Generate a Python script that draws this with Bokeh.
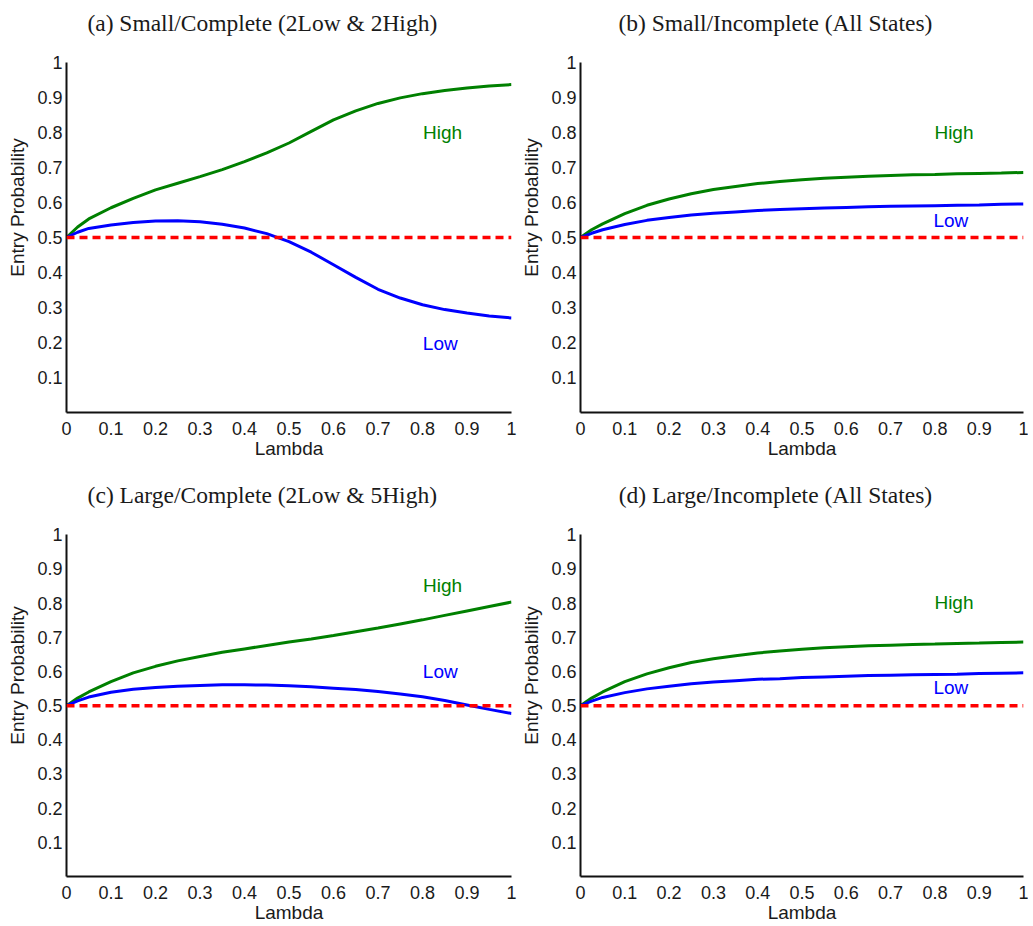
from bokeh.plotting import figure
from bokeh.layouts import gridplot
from bokeh.models import Range1d, FixedTicker, CustomJSTickFormatter, Span, Label
from bokeh.core.properties import value
from bokeh.embed import file_html
from bokeh.resources import INLINE

# ---------------- data ----------------
LAMBDA = [0, 0.025, 0.05, 0.1, 0.15, 0.2, 0.25, 0.3, 0.35, 0.4, 0.45, 0.5,
          0.55, 0.6, 0.65, 0.7, 0.75, 0.8, 0.85, 0.9, 0.95, 1.0]

a_high = [0.5, 0.530, 0.553, 0.585, 0.612, 0.636, 0.655, 0.674, 0.694, 0.717, 0.742, 0.770,
          0.803, 0.836, 0.862, 0.883, 0.899, 0.911, 0.920, 0.927, 0.933, 0.937]
a_low = [0.5, 0.515, 0.526, 0.536, 0.543, 0.547, 0.548, 0.545, 0.538, 0.527, 0.511, 0.488,
         0.458, 0.422, 0.386, 0.352, 0.327, 0.308, 0.294, 0.284, 0.276, 0.270]

b_high = [0.5, 0.522, 0.539, 0.568, 0.592, 0.610, 0.625, 0.637, 0.646, 0.654, 0.660, 0.665,
          0.669, 0.672, 0.675, 0.677, 0.679, 0.680, 0.682, 0.683, 0.684, 0.686]
b_low = [0.5, 0.512, 0.522, 0.537, 0.549, 0.557, 0.564, 0.569, 0.573, 0.577, 0.580, 0.582,
         0.584, 0.586, 0.588, 0.589, 0.590, 0.591, 0.592, 0.593, 0.595, 0.596]

c_high = [0.5, 0.522, 0.540, 0.570, 0.596, 0.615, 0.631, 0.644, 0.656, 0.666, 0.676, 0.686,
          0.695, 0.705, 0.716, 0.727, 0.739, 0.751, 0.764, 0.777, 0.790, 0.803]
c_low = [0.5, 0.514, 0.525, 0.539, 0.548, 0.553, 0.557, 0.559, 0.561, 0.561, 0.560, 0.558,
         0.555, 0.551, 0.547, 0.541, 0.534, 0.526, 0.515, 0.502, 0.489, 0.477]

d_high = [0.5, 0.522, 0.540, 0.570, 0.593, 0.611, 0.626, 0.637, 0.646, 0.654, 0.660, 0.665,
          0.669, 0.672, 0.675, 0.677, 0.679, 0.680, 0.682, 0.683, 0.685, 0.686]
d_low = [0.5, 0.513, 0.524, 0.538, 0.549, 0.557, 0.564, 0.569, 0.573, 0.577, 0.579, 0.582,
         0.584, 0.586, 0.588, 0.589, 0.590, 0.591, 0.592, 0.594, 0.595, 0.596]

THRESHOLD = 0.5

titles = ["(a) Small/Complete (2Low & 2High)",
          "(b) Small/Incomplete (All States)",
          "(c) Large/Complete (2Low & 5High)",
          "(d) Large/Incomplete (All States)"]

# label positions (x, y) for "High" and "Low" in each panel
high_label_x = [0.845, 0.843, 0.845, 0.843]
high_label_y = [0.800, 0.800, 0.851, 0.803]
low_label_x = [0.840, 0.836, 0.840, 0.836]
low_label_y = [0.197, 0.549, 0.600, 0.554]

x_ticks = [0, 0.1, 0.2, 0.3, 0.4, 0.5, 0.6, 0.7, 0.8, 0.9, 1.0]
y_ticks = [0.1, 0.2, 0.3, 0.4, 0.5, 0.6, 0.7, 0.8, 0.9, 1.0]

highs = [a_high, b_high, c_high, d_high]
lows = [a_low, b_low, c_low, d_low]

GREEN = "#008000"
BLUE = "#0000ff"
RED = "#ff0000"
SANS = "Liberation Sans"
SERIF = "Liberation Serif"

TITLE_X = 0.44      # title centre, as a fraction of the plotting width
TITLE_GAP_PX = 40   # title centre above the y=1 level, in px


def make_panel(i):
    left_col = (i % 2 == 0)
    top_row = (i < 2)
    if left_col:
        bl, fw, br = 66, 445, 7
    else:
        bl, fw, br = 62, 443, 5
    if top_row:
        pad, fh, bb = 60, 350, 60
    else:
        pad, fh, bb = 61, 346, 44
    bt = 2
    p = figure(width=bl + fw + br, height=bt + pad + fh + bb,
               x_range=Range1d(0, 1), y_range=Range1d(0, (fh + pad) / fh),
               output_backend="svg", toolbar_location=None,
               min_border_left=bl, min_border_right=br,
               min_border_top=bt, min_border_bottom=bb)
    p.outline_line_color = None
    p.background_fill_color = "white"
    p.border_fill_color = "white"
    p.xgrid.visible = False
    p.ygrid.visible = False

    p.add_layout(Label(x=TITLE_X, y=1 + TITLE_GAP_PX / fh, text=titles[i],
                       text_font=SERIF, text_font_size="23.5px",
                       text_color="#1a1a1a", text_align="center",
                       text_baseline="middle"))

    fmt = CustomJSTickFormatter(code="return (Math.round(tick*10)/10).toString();")
    for ax in (p.xaxis[0], p.yaxis[0]):
        ax.major_tick_in = 0
        ax.major_tick_out = 0
        ax.minor_tick_in = 0
        ax.minor_tick_out = 0
        ax.axis_line_color = "#111111"
        ax.axis_line_width = 2
        ax.major_label_text_font = SANS
        ax.major_label_text_font_size = "18px"
        ax.major_label_text_color = "#1a1a1a"
        ax.axis_label_text_font = SANS
        ax.axis_label_text_font_size = "19px"
        ax.axis_label_text_font_style = "normal"
        ax.axis_label_text_color = "#1a1a1a"
        ax.formatter = fmt
    p.xaxis[0].ticker = FixedTicker(ticks=x_ticks)
    p.yaxis[0].ticker = FixedTicker(ticks=y_ticks)
    p.yaxis[0].bounds = (0, 1)
    p.xaxis[0].axis_label = "Lambda"
    p.yaxis[0].axis_label = "Entry Probability"
    p.xaxis[0].major_label_standoff = 9
    p.xaxis[0].axis_label_standoff = 0
    p.yaxis[0].major_label_standoff = 4
    p.yaxis[0].axis_label_standoff = 6

    p.add_layout(Span(location=THRESHOLD, dimension="width", line_color=RED,
                      line_width=3.5, line_dash="8 5"))
    p.line(LAMBDA, highs[i], line_color=GREEN, line_width=3)
    p.line(LAMBDA, lows[i], line_color=BLUE, line_width=3)

    p.text(x=[high_label_x[i]], y=[high_label_y[i]], text=["High"],
           text_color=GREEN, text_font=value(SANS), text_font_size=value("19px"),
           text_align="center", text_baseline="middle")
    p.text(x=[low_label_x[i]], y=[low_label_y[i]], text=["Low"],
           text_color=BLUE, text_font=value(SANS), text_font_size=value("19px"),
           text_align="center", text_baseline="middle")
    return p


panels = [make_panel(i) for i in range(4)]
grid = gridplot([[panels[0], panels[1]], [panels[2], panels[3]]],
                toolbar_location=None)

open("out.html", "w").write(file_html(grid, INLINE))
